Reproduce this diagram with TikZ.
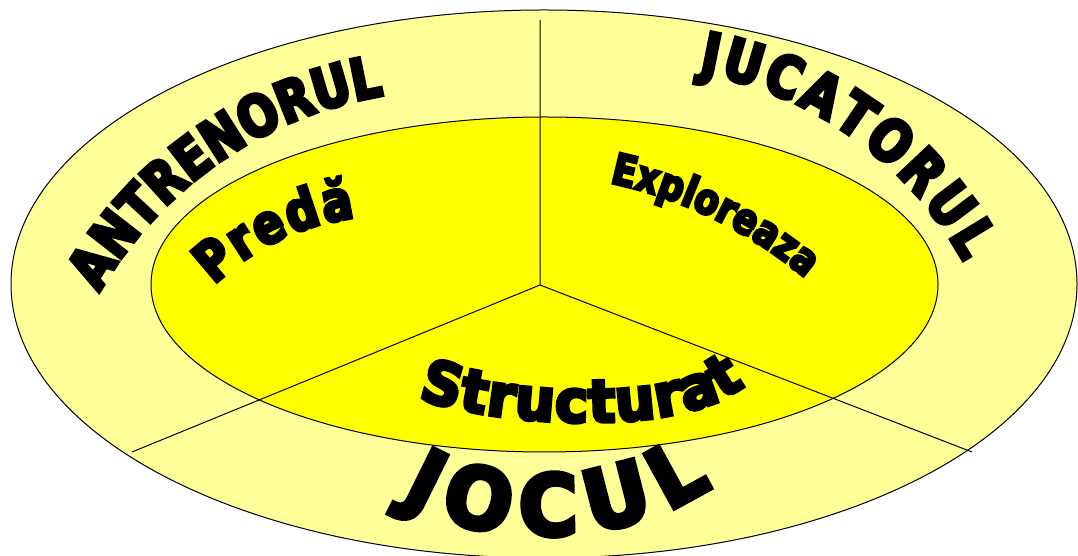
\documentclass[tikz,border=0pt]{standalone}
\usepackage{fontspec}
\usetikzlibrary{decorations.text,calc}
\newfontfamily\wa[FakeBold=6,FakeStretch=0.82]{DejaVu Sans Bold}
\newfontfamily\wb[FakeBold=6,FakeStretch=0.95]{DejaVu Sans Bold}
\definecolor{outerY}{HTML}{FFFF99}
\definecolor{innerY}{HTML}{FFFF00}
\tikzset{
  ring/.style={draw=black, line width=1pt},
  divider/.style={draw=black, line width=1pt},
  arctext/.style={decorate, decoration={text along path, text={#1}, text align=fit to path}}
}
\begin{document}
\begin{tikzpicture}[x=1pt,y=1pt]
\useasboundingbox (0,0) rectangle (1078,556);
\fill[white] (0,0) rectangle (1078,556);
\path[ring, fill=outerY] (544,272) ellipse [x radius=533, y radius=274];
\path[ring, fill=innerY] (544.5,271.5) ellipse [x radius=393.5, y radius=167.5];
\coordinate (hub) at (540,271);
\coordinate (topend) at (540,536);
\coordinate (leftend) at (132,104);
\coordinate (rightend) at (972,104);
\draw[divider] (topend) -- (hub) -- (leftend);
\draw[divider] (hub) -- (rightend);
% outer ring texts
\coordinate (antC) at (450,61);
\path[arctext={|\wa\fontsize{57}{60}\selectfont|ANTRENORUL}]
  ($(antC)+(150:405)$) arc[start angle=150, end angle=101, radius=405];
\coordinate (jucC) at (633,111);
\path[arctext={|\wa\fontsize{58}{60}\selectfont|JUCATORUL}]
  ($(jucC)+(80:378)$) arc[start angle=80, end angle=29, radius=378];
\path[arctext={|\wb\fontsize{84}{90}\selectfont|JOCUL}]
  (400,56) .. controls (490,4) and (625,10) .. (712,70);
% inner texts
\coordinate (preC) at (385,94);
\path[arctext={|\wa\fontsize{55}{56}\selectfont|Predă}]
  ($(preC)+(134:246)$) arc[start angle=134, end angle=97, radius=246];
\coordinate (expC) at (516,-67);
\path[arctext={|\wa\fontsize{43}{44}\selectfont|Exploreaza}]
  ($(expC)+(78:450)$) arc[start angle=78, end angle=50, radius=450];
\path[arctext={|\wb\fontsize{59}{60}\selectfont|Structurat}]
  (418,158) .. controls (490,131) and (680,116) .. (745,171);
\end{tikzpicture}
\end{document}
